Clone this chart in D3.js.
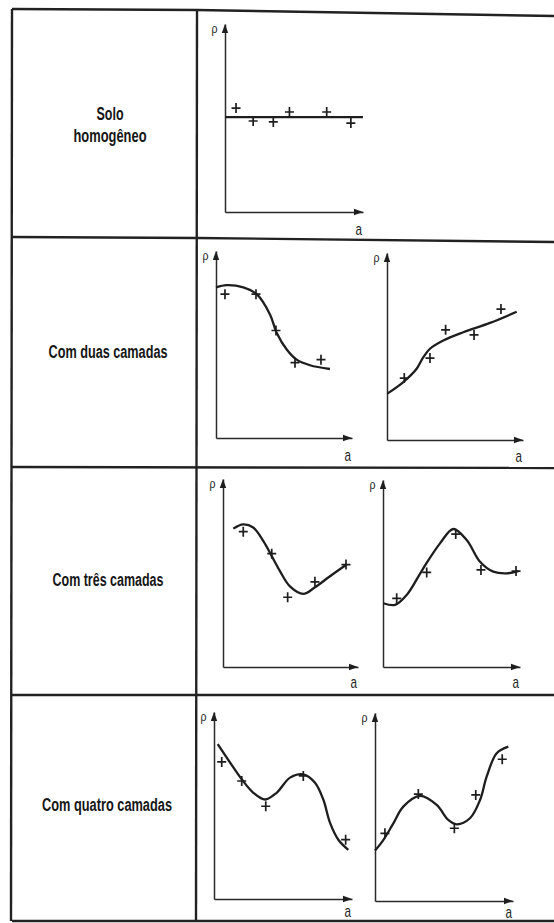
<!DOCTYPE html>
<html>
<head>
<meta charset="utf-8">
<script src="https://cdn.jsdelivr.net/npm/d3@7"></script>
<style>
  body { margin: 0; background: #fff; }
  svg { display: block; }
  .lbl { font-family: "Liberation Sans", Arial, sans-serif; font-weight: bold; fill: #161616; }
  .ax { font-family: "Liberation Sans", Arial, sans-serif; fill: #222; }
</style>
</head>
<body>
<svg id="chart" width="554" height="923"></svg>
<script>
// row labels (left column)
var rowLabels = [["Solo", "homogêneo"], ["Com duas camadas"], ["Com três camadas"], ["Com quatro camadas"]];

// curves [a, rho], 0..10 on each axis
var homoLine  = [[0, 5.05], [10, 5.05]];
var homoPts   = [[0.8, 5.53], [2.04, 4.84], [3.5, 4.79], [4.67, 5.32], [7.37, 5.32], [9.12, 4.73]];

var duasDesc  = [[0, 8.05], [0.79, 8.17], [2.01, 8.05], [2.99, 7.69], [3.97, 6.61], [4.46, 5.63], [5.2, 4.73], [5.93, 4.19], [6.91, 3.89], [8.38, 3.69]];
var duasDescPts = [[0.66, 7.69], [2.94, 7.69], [4.41, 5.75], [5.81, 4.03], [7.72, 4.19]];

var duasAsc   = [[0.02, 2.48], [1.2, 3.1], [2.18, 3.81], [2.67, 4.43], [3.16, 4.88], [4.14, 5.32], [5.61, 5.76], [7.57, 6.26], [9.54, 6.86]];
var duasAscPts = [[1.27, 3.31], [3.16, 4.38], [4.31, 5.89], [6.4, 5.62], [8.38, 7.0]];

var tresA     = [[0.76, 7.36], [1.5, 7.59], [2.24, 7.42], [2.99, 6.7], [3.61, 5.9], [4.22, 5.1], [4.96, 4.29], [5.95, 3.89], [6.81, 4.24], [7.93, 4.83], [9.16, 5.45]];
var tresAPts  = [[1.5, 7.2], [3.61, 6.03], [4.79, 3.71], [6.81, 4.53], [9.11, 5.45]];

var tresB     = [[0.02, 3.41], [0.88, 3.32], [1.73, 3.85], [2.94, 5.28], [4.16, 6.61], [5.13, 7.38], [6.11, 6.79], [7.08, 5.63], [8.05, 5.1], [9.03, 5.01], [9.88, 5.13]];
var tresBPts  = [[1.0, 3.67], [3.19, 5.06], [5.31, 7.11], [7.15, 5.19], [9.71, 5.13]];

var quatroA   = [[0.27, 8.28], [1.16, 7.3], [2.01, 6.4], [2.85, 5.68], [3.7, 5.32], [4.54, 5.68], [5.51, 6.49], [6.47, 6.67], [7.32, 6.22], [7.92, 5.32], [8.41, 4.07], [9.01, 3.17], [9.73, 2.63]];
var quatroAPts = [[0.56, 7.33], [2.01, 6.31], [3.75, 4.96], [6.47, 6.58], [9.54, 3.17]];

var quatroB   = [[0, 2.68], [0.6, 3.24], [1.33, 4.13], [2.05, 5.02], [3.26, 5.59], [4.47, 5.11], [5.31, 4.31], [5.92, 4.08], [6.88, 4.4], [7.61, 5.37], [8.09, 6.61], [8.82, 7.86], [9.66, 8.21]];
var quatroBPts = [[0.72, 3.6], [3.14, 5.69], [5.75, 3.87], [7.3, 5.64], [9.22, 7.54]];

var svg = d3.select("#chart");
var ink = "#1e1e1e";

// table frame
var frame = svg.append("g").attr("fill", "none").attr("stroke", "#222").attr("stroke-width", 2.4);
var hLines = [
  [[12, 9], [197, 10], [554, 16]],
  [[12, 237], [197, 238], [554, 242]],
  [[12, 467], [554, 468]],
  [[12, 695], [554, 695]],
  [[12, 921], [554, 921]]
];
hLines.forEach(function(l) { frame.append("path").attr("d", d3.line()(l)); });
frame.append("path").attr("d", d3.line()([[12, 9], [11, 921]]));
frame.append("path").attr("d", d3.line()([[197, 10], [196, 921]]));

// row labels
var labelPos = [
  {cx: 110, lines: [{y: 120, w: 27}, {y: 142, w: 73}]},
  {cx: 108, lines: [{y: 358, w: 119}]},
  {cx: 108, lines: [{y: 586, w: 111}]},
  {cx: 107, lines: [{y: 811, w: 130}]}
];
rowLabels.forEach(function(lines, i) {
  lines.forEach(function(t, j) {
    var p = labelPos[i].lines[j];
    svg.append("text").attr("class", "lbl")
      .attr("x", labelPos[i].cx - p.w / 2).attr("y", p.y)
      .attr("font-size", 18)
      .attr("textLength", p.w).attr("lengthAdjust", "spacingAndGlyphs")
      .text(t);
  });
});

// small plots
var charts = [
  {x0: 225, x1: 363, y0: 212, y1: 24,  aDy: 23, curve: homoLine,  pts: homoPts,    interp: d3.curveLinear},
  {x0: 216, x1: 352, y0: 438, y1: 251, aDy: 23, curve: duasDesc,  pts: duasDescPts, interp: d3.curveCatmullRom},
  {x0: 387, x1: 523, y0: 440, y1: 253, aDy: 22, curve: duasAsc,   pts: duasAscPts, interp: d3.curveCatmullRom},
  {x0: 223, x1: 358, y0: 667, y1: 479, aDy: 21, curve: tresA,     pts: tresAPts,   interp: d3.curveCatmullRom},
  {x0: 383, x1: 520, y0: 667, y1: 480, aDy: 21, curve: tresB,     pts: tresBPts,   interp: d3.curveCatmullRom},
  {x0: 214, x1: 352, y0: 899, y1: 712, aDy: 18, curve: quatroA,   pts: quatroAPts, interp: d3.curveCatmullRom},
  {x0: 375, x1: 513, y0: 901, y1: 713, aDy: 17, curve: quatroB,   pts: quatroBPts, interp: d3.curveCatmullRom}
];

charts.forEach(function(c) {
  var x = d3.scaleLinear().domain([0, 10]).range([c.x0, c.x1]);
  var y = d3.scaleLinear().domain([0, 10]).range([c.y0, c.y1]);
  var g = svg.append("g");

  var xa = g.append("g").attr("transform", "translate(0," + c.y0 + ")")
    .call(d3.axisBottom(x).tickValues([]).tickSizeOuter(0));
  var ya = g.append("g").attr("transform", "translate(" + c.x0 + ",0)")
    .call(d3.axisLeft(y).tickValues([]).tickSizeOuter(0));
  [xa, ya].forEach(function(a) {
    a.select(".domain").attr("stroke", "#2a2a2a").attr("stroke-width", 1.5);
  });

  // arrow heads
  g.append("path").attr("fill", "#1e1e1e")
    .attr("d", d3.line()([[c.x1, c.y0], [c.x1 - 9, c.y0 - 3.2], [c.x1 - 9, c.y0 + 3.2]]) + "Z");
  g.append("path").attr("fill", "#1e1e1e")
    .attr("d", d3.line()([[c.x0, c.y1], [c.x0 - 3.2, c.y1 + 9], [c.x0 + 3.2, c.y1 + 9]]) + "Z");

  g.append("text").attr("class", "ax").attr("font-size", 13)
    .attr("x", c.x0 - 13.5).attr("y", c.y1 + 9)
    .attr("textLength", 6).attr("lengthAdjust", "spacingAndGlyphs")
    .text("ρ");
  g.append("text").attr("class", "ax").attr("font-size", 17)
    .attr("x", c.x1 - 7.5).attr("y", c.y0 + c.aDy)
    .attr("textLength", 6.5).attr("lengthAdjust", "spacingAndGlyphs")
    .text("a");

  var line = d3.line().x(function(d) { return x(d[0]); }).y(function(d) { return y(d[1]); }).curve(c.interp);
  g.append("path").datum(c.curve).attr("fill", "none")
    .attr("stroke", ink).attr("stroke-width", 2.3).attr("d", line);

  g.selectAll(".pt").data(c.pts).enter().append("path")
    .attr("class", "pt")
    .attr("stroke", ink).attr("stroke-width", 1.7).attr("fill", "none")
    .attr("d", function(d) {
      var px = x(d[0]), py = y(d[1]);
      return "M" + (px - 4.5) + "," + py + "H" + (px + 4.5) + "M" + px + "," + (py - 5) + "V" + (py + 5);
    });
});
</script>
</body>
</html>
